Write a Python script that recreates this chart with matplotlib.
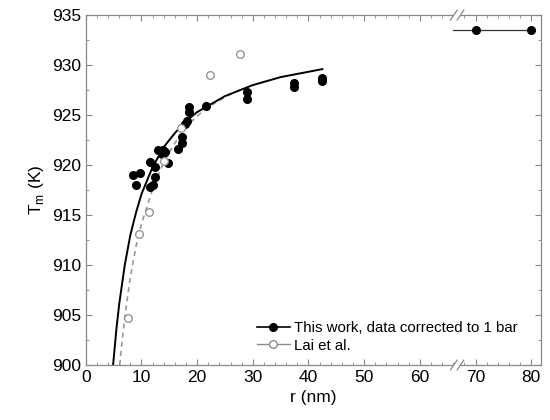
import matplotlib.pyplot as plt
import matplotlib.transforms as mtransforms
from matplotlib.patches import Polygon
from matplotlib.ticker import MultipleLocator

plt.rcParams.update(
    {
        "font.family": ["Liberation Sans", "DejaVu Sans"],
        "font.size": 11,
        "axes.edgecolor": "#888888",
        "axes.linewidth": 0.9,
    }
)

# this work (corrected to 1 bar)
work_r = [8.5, 9.7, 9.1, 11.5, 12.4, 12.4, 12.1, 11.5, 13.0, 13.9, 14.2, 13.6, 14.8,
          16.5, 17.2, 17.2, 17.8, 18.1, 18.6, 18.6, 21.6, 29.0, 29.0, 37.4, 37.4, 42.5, 42.5]
work_T = [919.0, 919.2, 918.0, 920.3, 919.8, 918.8, 918.0, 917.8, 921.5, 921.5, 921.3, 921.1, 920.2,
          921.6, 922.8, 922.2, 924.1, 924.4, 925.8, 925.3, 925.9, 927.3, 926.6, 928.2, 927.8, 928.7, 928.4]

# Lai et al.
lai_r = [7.5, 9.5, 11.4, 14.1, 17.1, 22.3, 27.7]
lai_T = [904.7, 913.1, 915.3, 920.4, 923.7, 929.0, 931.1]

# fit curves
fit_r = [4.9, 5.5, 6.0, 7.0, 8.0, 9.0, 10.0, 12.0, 14.0, 16.0, 18.0, 20.0, 25.0, 30.0, 35.0, 42.5]
fit_T = [900.0, 903.6, 906.1, 910.0, 913.0, 915.2, 917.1, 919.8, 921.8, 923.2, 924.4, 925.3,
         926.9, 928.0, 928.8, 929.6]
lai_fit_r = [6.1, 6.5, 7.0, 8.0, 9.0, 10.0, 12.0, 14.0, 16.0, 18.0, 20.0, 22.0, 25.0, 28.0]
lai_fit_T = [900.0, 902.3, 904.8, 908.8, 911.8, 914.1, 917.6, 920.3, 922.2, 923.8, 924.9,
             925.8, 926.8, 927.6]

# bulk value shown past the axis break
bulk_r = [66.0, 70.0, 80.0]
bulk_T = [933.5, 933.5, 933.5]
bulk_mark_r = [70.0, 80.0]
bulk_mark_T = [933.5, 933.5]

fig = plt.figure(figsize=(5.5, 4.2), dpi=100)
ax = fig.add_axes([0.156, 0.131, 0.828, 0.833])

ax.plot(lai_fit_r, lai_fit_T, color="#9a9a9a", lw=1.2, ls=(0, (3, 2.5)), zorder=2)
ax.plot(fit_r, fit_T, color="black", lw=1.4, zorder=3)
ax.plot(work_r, work_T, "o", color="black", ms=5.5, zorder=4)
ax.plot(lai_r, lai_T, "o", mfc="white", mec="#8c8c8c", mew=0.9, ms=5.5, zorder=5)
ax.plot(bulk_r, bulk_T, color="#333333", lw=0.9, zorder=3)
ax.plot(bulk_mark_r, bulk_mark_T, "o", color="black", ms=5.5, zorder=4)

# legend handles
h1, = ax.plot([], [], "-o", color="black", ms=5.5, lw=1.2)
h2, = ax.plot([], [], "-o", color="#8c8c8c", mfc="white", ms=5.5, lw=1.0)
ax.legend([h1, h2], ["This work, data corrected to 1 bar", "Lai et al."],
          loc="lower left", bbox_to_anchor=(0.375, 0.035), frameon=False,
          borderpad=0, borderaxespad=0,
          fontsize=10.8, handlelength=2.2, handletextpad=0.3, labelspacing=0.25)

ax.set_xlim(0, 81.8)
ax.set_ylim(900, 935)
ax.xaxis.set_major_locator(MultipleLocator(10))
ax.xaxis.set_minor_locator(MultipleLocator(2))
ax.yaxis.set_major_locator(MultipleLocator(5))
ax.yaxis.set_minor_locator(MultipleLocator(2.5))
ax.tick_params(which="both", direction="in", top=True, right=True, color="#888888")
ax.tick_params(which="major", length=4, labelsize=12.5)
ax.tick_params(which="minor", length=2.5)
ax.set_xlabel("r (nm)", fontsize=12.5)
ax.set_ylabel(r"T$_\mathregular{m}$ (K)", fontsize=12.5)

# axis break marks on top and bottom spines
trans = mtransforms.blended_transform_factory(ax.transData, ax.transAxes)
for yb in (0.0, 1.0):
    ax.add_patch(Polygon([(65.5, yb - 0.012), (66.7, yb + 0.012), (67.9, yb + 0.012), (66.7, yb - 0.012)],
                         closed=True, facecolor="white", edgecolor="none",
                         transform=trans, clip_on=False, zorder=6))
    for xb in (65.5, 66.7):
        ax.plot([xb, xb + 1.2], [yb - 0.014, yb + 0.014], color="#888888", lw=0.9,
                transform=trans, clip_on=False, zorder=7)

fig.savefig("out.png", dpi=100)
